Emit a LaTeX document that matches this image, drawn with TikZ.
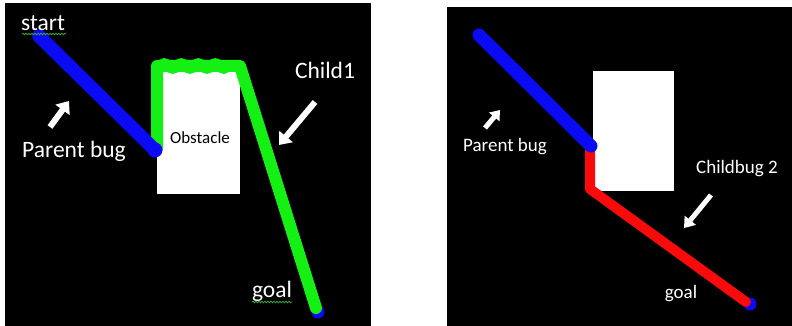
\documentclass[tikz,border=0pt]{standalone}
\usepackage{fontspec}
\setmainfont{Carlito}
\usetikzlibrary{arrows.meta,decorations.pathmorphing}
\definecolor{bugblue}{RGB}{10,10,245}
\definecolor{buggreen}{RGB}{20,240,20}
\definecolor{bugred}{RGB}{250,10,10}
\definecolor{squiggle}{RGB}{60,160,60}
\begin{document}
\begin{tikzpicture}[x=1pt,y=-1pt,
  lbl/.style={text=white, font=\fontsize{23.5}{25}\selectfont, inner sep=0pt},
  lbls/.style={text=white, font=\fontsize{19}{21}\selectfont, inner sep=0pt},
  obstlbl/.style={text=black, font=\fontsize{17}{19}\selectfont, inner sep=0pt},
  pointer/.style={draw=white, line width=6pt, -{Triangle[width=17pt,length=11pt]}},
  bugpath/.style={line width=#1, line cap=round, line join=round},
  bugpath/.default=12pt,
  wavy/.style={draw=squiggle, line width=0.8pt, decorate, decoration={snake, amplitude=0.8pt, segment length=3pt}}]
\useasboundingbox (0,0) rectangle (792,326);
\fill[white] (0,0) rectangle (792,326);
% panels
\fill[black] (5,3) rectangle (371,326);
\fill[black] (447,7) rectangle (792,326);

% ---------- left panel ----------
\fill[white] (157,70) rectangle (240,194);
\coordinate (ls) at (39,36);
\coordinate (lh) at (155,150);
\coordinate (lg) at (318,312);
\fill[bugblue] (lg) circle (6.5pt);
\draw[bugpath, draw=buggreen] (157,148) -- (157,66) -- (240,66) -- (316,308);
\draw[draw=buggreen, line width=11pt, decorate, decoration={snake, amplitude=2.2pt, segment length=17pt}] (159,66) -- (237,66);
\draw[bugpath=13.5pt, draw=bugblue] (ls) -- (lh);
\fill[bugblue] (lh) circle (7.5pt);

\node[lbl] (start) at (43,23) {start};
\draw[wavy] (22,34) -- (66,34);
\node[lbl] (goal1) at (272,291) {goal};
\draw[wavy] (252,302) -- (292,302);
\node[lbl] (child1) at (325,70) {Child1};
\node[lbl] (parent1) at (74,151) {Parent bug};
\node[obstlbl] (obst) at (200,138) {Obstacle};
\coordinate (a1s) at (50,127);
\coordinate (a1e) at (69,101);
\draw[pointer] (a1s) -- (a1e);
\coordinate (a2s) at (315,102);
\coordinate (a2e) at (279,145);
\draw[pointer] (a2s) -- (a2e);

% ---------- right panel ----------
\fill[white] (593,71) rectangle (674,191);
\coordinate (rs) at (479,35);
\coordinate (rh) at (591,146);
\coordinate (rg) at (750,304);
\fill[bugblue] (rg) circle (6.5pt);
\draw[bugpath=10pt, draw=bugred] (590,148) -- (590,189) -- (746,302);
\draw[bugpath=13pt, draw=bugblue] (rs) -- (rh);

\node[lbls] (parent2) at (505,147) {Parent bug};
\node[lbls] (child2) at (737,169) {Childbug 2};
\node[lbls] (goal2) at (681,294) {goal};
\coordinate (a3s) at (485,128);
\coordinate (a3e) at (500,110);
\draw[pointer, line width=5pt, -{Triangle[width=13pt,length=9pt]}] (a3s) -- (a3e);
\coordinate (a4s) at (711,195);
\coordinate (a4e) at (684,228);
\draw[pointer, line width=5pt, -{Triangle[width=14pt,length=10pt]}] (a4s) -- (a4e);
\end{tikzpicture}
\end{document}
